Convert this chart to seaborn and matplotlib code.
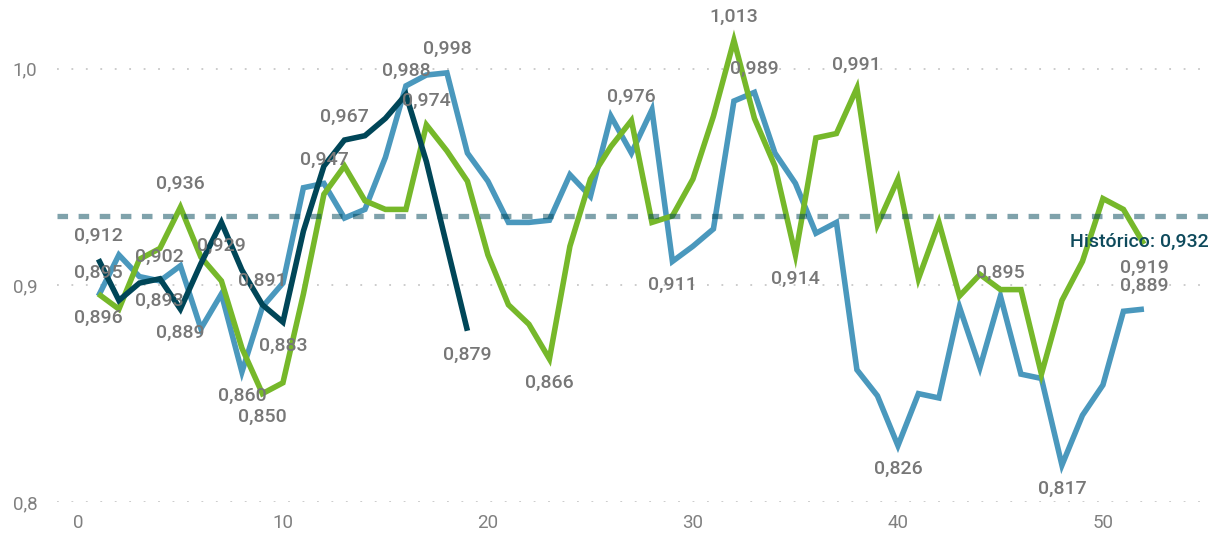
import pandas as pd
import seaborn as sns
import matplotlib.pyplot as plt

# Weekly values
weeks = list(range(1, 53))
serie_azul = [0.895, 0.914, 0.904, 0.902, 0.909, 0.880, 0.896, 0.860, 0.890, 0.901,
              0.945, 0.947, 0.931, 0.935, 0.959, 0.992, 0.997, 0.998, 0.961, 0.948,
              0.929, 0.929, 0.930, 0.951, 0.941, 0.978, 0.961, 0.981, 0.911, 0.918,
              0.926, 0.985, 0.989, 0.961, 0.947, 0.924, 0.929, 0.861, 0.849, 0.826,
              0.850, 0.848, 0.890, 0.862, 0.895, 0.859, 0.857, 0.817, 0.840, 0.854,
              0.888, 0.889]
serie_verde = [0.896, 0.889, 0.912, 0.917, 0.936, 0.913, 0.902, 0.871, 0.850, 0.855,
               0.896, 0.942, 0.955, 0.939, 0.935, 0.935, 0.974, 0.962, 0.948, 0.914,
               0.891, 0.882, 0.866, 0.918, 0.949, 0.964, 0.976, 0.929, 0.932, 0.949,
               0.978, 1.013, 0.977, 0.955, 0.914, 0.968, 0.970, 0.991, 0.928, 0.949,
               0.903, 0.929, 0.895, 0.905, 0.898, 0.898, 0.859, 0.893, 0.911, 0.940,
               0.935, 0.919]
serie_escura = [0.912, 0.893, 0.901, 0.903, 0.889, 0.910, 0.929, 0.907, 0.891, 0.883,
                0.925, 0.955, 0.967, 0.969, 0.977, 0.988, 0.957, 0.918, 0.879]
historico = 0.932

y_ticks = [0.8, 0.9, 1.0]
y_tick_labels = ["0,8", "0,9", "1,0"]
x_ticks = [0, 10, 20, 30, 40, 50]

# labelled points: (series, week, direction, extra x offset in points)
rotulos = [
    ("azul", 1, 1, 0), ("azul", 4, 1, 0), ("azul", 8, -1, 0), ("azul", 12, 1, 0),
    ("azul", 18, 1, 0), ("azul", 29, -1, 0), ("azul", 33, 1, 0), ("azul", 40, -1, 0),
    ("azul", 45, 1, 0), ("azul", 48, -1, 0), ("azul", 52, 1, 0),
    ("verde", 1, -1, 0), ("verde", 5, 1, 0), ("verde", 9, -1, 0), ("verde", 17, 1, 0),
    ("verde", 23, -1, 0), ("verde", 27, 1, 0), ("verde", 32, 1, 0), ("verde", 35, -1, 0),
    ("verde", 38, 1, 0), ("verde", 52, -1, 0),
    ("escura", 1, 1, 0), ("escura", 2, 0, 29), ("escura", 5, -1, 0), ("escura", 7, -1, 0),
    ("escura", 9, 1, 0), ("escura", 10, -1, 0), ("escura", 13, 1, 0), ("escura", 16, 1, 0),
    ("escura", 19, -1, 0),
]

cores = {"azul": "#4A98BD", "verde": "#76B82A", "escura": "#004658"}

df = pd.concat([
    pd.DataFrame({"semana": weeks, "valor": serie_azul, "serie": "azul"}),
    pd.DataFrame({"semana": weeks, "valor": serie_verde, "serie": "verde"}),
    pd.DataFrame({"semana": weeks[:len(serie_escura)], "valor": serie_escura, "serie": "escura"}),
])

sns.set_style("white")
plt.rcParams["font.family"] = ["Roboto", "DejaVu Sans"]

fig = plt.figure(figsize=(12.14, 5.35), dpi=100)
ax = fig.add_axes([57 / 1214, 33 / 535, 1155 / 1214, 492 / 535])

sns.lineplot(data=df, x="semana", y="valor", hue="serie", palette=cores,
             hue_order=["azul", "verde", "escura"], linewidth=4, legend=False,
             ax=ax, solid_joinstyle="miter", solid_capstyle="butt")

ax.axhline(historico, color="#004658", alpha=0.5, linewidth=3.8,
           linestyle=(0, (2, 2)), zorder=5)
ax.annotate(f"Histórico: {historico:.3f}".replace(".", ","),
            xy=(0.997, historico), xycoords=("axes fraction", "data"),
            xytext=(0, -19), textcoords="offset points",
            ha="right", va="center", fontsize=14, fontweight="medium",
            color="#0E4A5C", zorder=6)

valores = {"azul": serie_azul, "verde": serie_verde, "escura": serie_escura}
for serie, semana, direcao, dx in rotulos:
    v = valores[serie][semana - 1]
    ax.annotate(f"{v:.3f}".replace(".", ","), xy=(semana, v),
                xytext=(dx, 17 * direcao), textcoords="offset points",
                ha="center", va="center", fontsize=14, fontweight="medium",
                color="#777777", zorder=7)

for t in y_ticks:
    ax.axhline(t, color="#C8C8C8", linewidth=1.3, linestyle=(0, (1, 7)), zorder=0)

ax.set_xlim(-1.02, 55.32)
ax.set_ylim(0.8, 1.027)
ax.set_xticks(x_ticks)
ax.set_yticks(y_ticks)
ax.set_yticklabels(y_tick_labels)
ax.tick_params(axis="both", length=0, labelsize=13.5, labelcolor="#808080")
ax.tick_params(axis="y", pad=14)
ax.tick_params(axis="x", pad=9)
ax.set_xlabel("")
ax.set_ylabel("")
sns.despine(left=True, bottom=True)
ax.grid(False)

plt.savefig("out.png", dpi=100)
